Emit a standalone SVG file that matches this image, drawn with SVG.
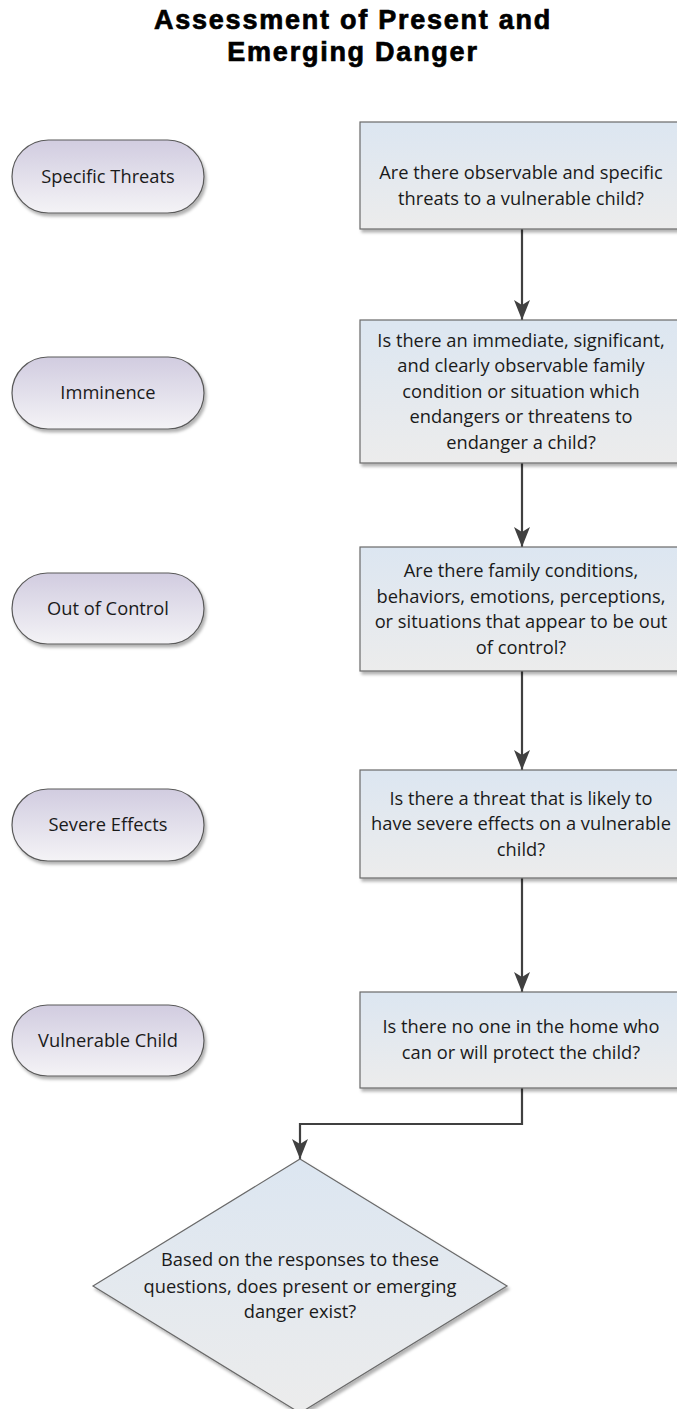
<svg xmlns="http://www.w3.org/2000/svg" width="677" height="1409" viewBox="0 0 677 1409">
<defs>
<linearGradient id="gBox" x1="0" y1="0" x2="0" y2="1">
<stop offset="0" stop-color="#dce6f1"/>
<stop offset="1" stop-color="#ececec"/>
</linearGradient>
<linearGradient id="gPill" x1="0" y1="0" x2="0" y2="1">
<stop offset="0" stop-color="#d1cce0"/>
<stop offset="1" stop-color="#f4f3f6"/>
</linearGradient>
<filter id="sh" x="-10%" y="-10%" width="130%" height="130%">
<feDropShadow dx="2" dy="3" stdDeviation="1.5" flood-color="#000" flood-opacity="0.3"/>
</filter>
<marker id="arr" viewBox="0 0 20 16" refX="20" refY="8" markerWidth="20" markerHeight="16" markerUnits="userSpaceOnUse" orient="auto">
<path d="M0,0 L20,8 L0,16 L5,8 Z" fill="#404040"/>
</marker>
</defs>
<style>
.title{font-family:"Liberation Sans",Arial,sans-serif;font-weight:bold;font-size:27px;fill:#000;stroke:#000;stroke-width:0.7;letter-spacing:1.75px;text-anchor:middle}
.box{fill:url(#gBox);stroke:#6a6a6a;stroke-width:1.2;filter:url(#sh)}
.pill{fill:url(#gPill);stroke:#5a5a5a;stroke-width:1.2;filter:url(#sh)}
.t{font-family:"Open Sans","Noto Sans",sans-serif;font-size:18.3px;fill:#1a1a1a;text-anchor:middle}
.c{fill:none;stroke:#404040;stroke-width:2.2;marker-end:url(#arr)}
</style>
<rect width="677" height="1409" fill="#fff"/>
<g id="title">
<text class="title" x="353" y="29">Assessment of Present and</text>
<text class="title" x="353" y="61">Emerging Danger</text>
</g>
<g id="connectors">
<path class="c" d="M522,229 V320"/>
<path class="c" d="M522,463 V547"/>
<path class="c" d="M522,671 V770"/>
<path class="c" d="M522,878 V992"/>
<path class="c" d="M522,1088 V1124 H300 V1159"/>
</g>
<g id="pill1"><rect class="pill" x="12" y="140" width="192" height="73" rx="36.5"/><text class="t" x="108" y="183">Specific Threats</text></g>
<g id="pill2"><rect class="pill" x="12" y="357" width="192" height="72" rx="36"/><text class="t" x="108" y="399">Imminence</text></g>
<g id="pill3"><rect class="pill" x="12" y="573" width="192" height="71" rx="35.5"/><text class="t" x="108" y="615">Out of Control</text></g>
<g id="pill4"><rect class="pill" x="12" y="789" width="192" height="72" rx="36"/><text class="t" x="108" y="831">Severe Effects</text></g>
<g id="pill5"><rect class="pill" x="12" y="1005" width="192" height="71" rx="35.5"/><text class="t" x="108" y="1047">Vulnerable Child</text></g>
<g id="box1"><rect class="box" x="360" y="122" width="324" height="107"/>
<text class="t" x="521" y="179">Are there observable and specific</text>
<text class="t" x="521" y="204.5">threats to a vulnerable child?</text></g>
<g id="box2"><rect class="box" x="360" y="320" width="324" height="143"/>
<text class="t" x="521" y="346.5">Is there an immediate, significant,</text>
<text class="t" x="521" y="372">and clearly observable family</text>
<text class="t" x="521" y="397.5">condition or situation which</text>
<text class="t" x="521" y="423">endangers or threatens to</text>
<text class="t" x="521" y="448.5">endanger a child?</text></g>
<g id="box3"><rect class="box" x="360" y="547" width="324" height="124"/>
<text class="t" x="521" y="577">Are there family conditions,</text>
<text class="t" x="521" y="602.5">behaviors, emotions, perceptions,</text>
<text class="t" x="521" y="628">or situations that appear to be out</text>
<text class="t" x="521" y="653.5">of control?</text></g>
<g id="box4"><rect class="box" x="360" y="770" width="324" height="108"/>
<text class="t" x="521" y="804.5">Is there a threat that is likely to</text>
<text class="t" x="521" y="830">have severe effects on a vulnerable</text>
<text class="t" x="521" y="855.5">child?</text></g>
<g id="box5"><rect class="box" x="360" y="992" width="324" height="96"/>
<text class="t" x="521" y="1033">Is there no one in the home who</text>
<text class="t" x="521" y="1058.5">can or will protect the child?</text></g>
<g id="decision"><path class="box" d="M300,1159 L507,1286 L300,1413 L93,1286 Z"/>
<text class="t" x="300" y="1266">Based on the responses to these</text>
<text class="t" x="300" y="1292.5">questions, does present or emerging</text>
<text class="t" x="300" y="1318">danger exist?</text></g>
</svg>
